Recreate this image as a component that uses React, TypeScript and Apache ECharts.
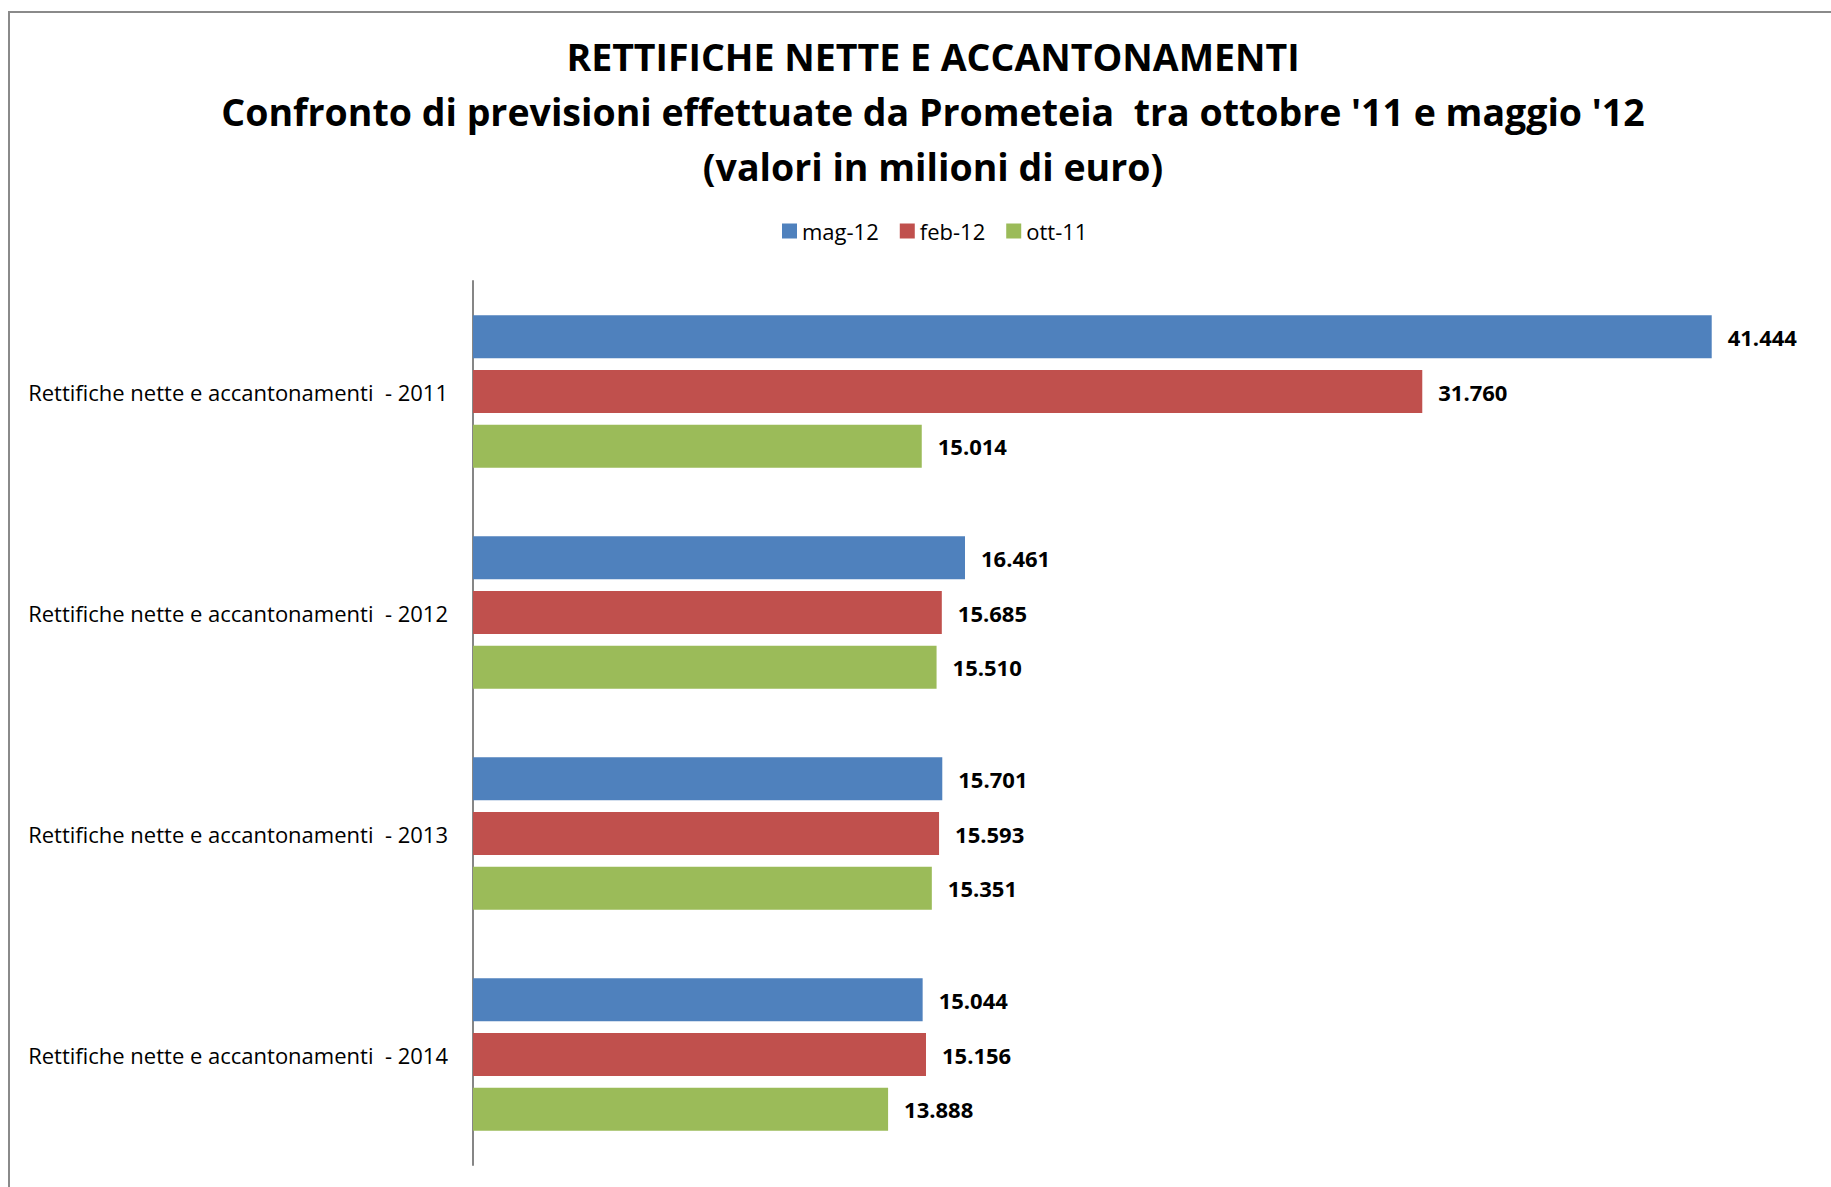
import React, { useEffect, useRef } from "react";
import * as echarts from "echarts";

const categories = [
  "Rettifiche nette e accantonamenti  - 2011",
  "Rettifiche nette e accantonamenti  - 2012",
  "Rettifiche nette e accantonamenti  - 2013",
  "Rettifiche nette e accantonamenti  - 2014",
];
const seriesNames = ["mag-12", "feb-12", "ott-11"];
const mag12 = [41444, 16461, 15701, 15044];
const feb12 = [31760, 15685, 15593, 15156];
const ott11 = [15014, 15510, 15351, 13888];
const colors = ["#4F81BD", "#C0504D", "#9BBB59"];
const titleText =
  "RETTIFICHE NETTE E ACCANTONAMENTI\nConfronto di previsioni effettuate da Prometeia  tra ottobre '11 e maggio '12\n(valori in milioni di euro)";

const FONT = "'Open Sans', 'Noto Sans', sans-serif";

function fmt(v: number): string {
  const s = Math.round(v).toString();
  return s.replace(/\B(?=(\d{3})+(?!\d))/g, ".");
}

export default function App() {
  const ref = useRef<HTMLDivElement>(null);
  useEffect(() => {
    if (!ref.current) return;
    const chart = echarts.init(ref.current, undefined, { renderer: "svg" });
    const values = [mag12, feb12, ott11];
    chart.setOption({
      animation: false,
      backgroundColor: "#ffffff",
      title: {
        text: titleText,
        left: 928,
        top: 24,
        textAlign: "center",
        textStyle: {
          fontFamily: FONT,
          fontWeight: "bold",
          fontSize: 37.5,
          lineHeight: 55,
          color: "#000",
        },
      },
      legend: {
        data: seriesNames,
        left: 777,
        top: 215,
        itemWidth: 15,
        itemHeight: 15,
        itemGap: 21,
        icon: "rect",
        textStyle: { fontFamily: FONT, fontSize: 22, color: "#000" },
      },
      grid: { left: 473, right: 13, top: 281, bottom: 22, containLabel: false },
      xAxis: {
        type: "value",
        min: 0,
        max: 45000,
        show: false,
      },
      yAxis: {
        type: "category",
        data: categories,
        inverse: true,
        axisLine: { show: true, lineStyle: { color: "#868686", width: 2 } },
        axisTick: { show: false },
        axisLabel: {
          fontFamily: FONT,
          fontSize: 22,
          color: "#000",
          margin: 25,
        },
      },
      graphic: [
        {
          type: "rect",
          shape: { x: 9, y: 12, width: 1900, height: 1300 },
          style: { fill: "none", stroke: "#8a8a8a", lineWidth: 2 },
          silent: true,
        },
      ],
      series: seriesNames.map((name, i) => ({
        name,
        type: "bar",
        data: values[i],
        barCategoryGap: "31%",
        barGap: "27%",
        itemStyle: { color: colors[i] },
        label: {
          show: true,
          position: "right",
          distance: 16,
          fontFamily: FONT,
          fontWeight: "bold",
          fontSize: 22,
          color: "#000",
          formatter: (p: any) => fmt(p.value),
        },
      })),
    });
    return () => chart.dispose();
  }, []);
  return (
    <div
      ref={ref}
      style={{ position: "absolute", left: 0, top: 0, width: 1831, height: 1187 }}
    />
  );
}
